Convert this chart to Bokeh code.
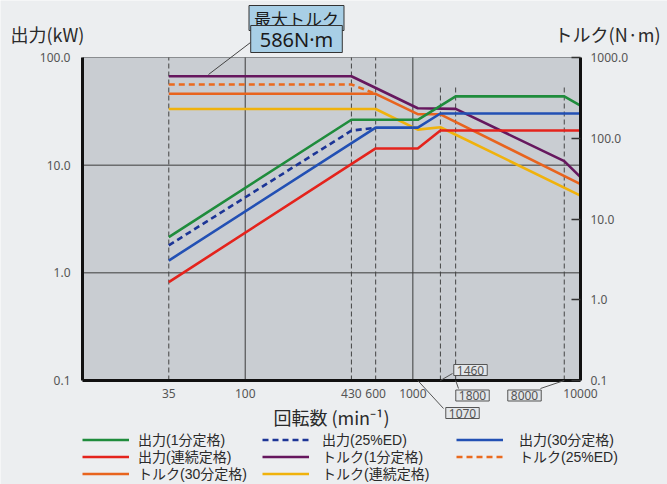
import math
from bokeh.plotting import figure
from bokeh.models import (Range1d, LogAxis, LogScale, FixedTicker, CustomJSTickFormatter,
                          Legend, LegendItem, Label, Arrow)
from bokeh.embed import file_html
from bokeh.resources import INLINE

# ---------------- data ----------------
rpm_out_1min = [35, 430, 1070, 1800, 8000, 10000]
out_1min = [2.15, 26.4, 26.4, 43.5, 43.5, 35.8]
rpm_out_25ed = [35, 430, 600]
out_25ed = [1.8, 20.9, 22.3]
rpm_out_30 = [35, 600, 1070, 1460, 10000]
out_30 = [1.30, 22.3, 22.3, 30.2, 30.2]
rpm_out_cont = [35, 600, 1070, 1460, 10000]
out_cont = [0.82, 14.3, 14.3, 21.0, 21.0]

rpm_trq_1min = [35, 430, 1070, 1800, 8000, 10000]
trq_1min = [586, 586, 235, 231, 52, 33]
rpm_trq_25ed = [35, 430, 600]
trq_25ed = [464, 464, 355]
rpm_trq_30 = [35, 600, 1070, 1460, 10000]
trq_30 = [355, 355, 199, 198, 27]
rpm_trq_cont = [35, 600, 1070, 1460, 10000]
trq_cont = [230, 230, 128, 137, 19.5]

x_ticks = [35, 100, 430, 600, 1000, 10000]
power_ticks = [0.1, 1, 10, 100]
torque_ticks = [0.1, 1, 10, 100, 1000]
power_grid = [1, 10]
solid_rpm = [100, 1000]
dashed_rpm_full = [35, 430, 600]
dashed_rpm_short = [1460, 1800, 8000]
boxed_rpm = [1070, 1460, 1800, 8000]
max_torque_text = ["最大トルク", "586N·m"]

# axis extents
RPM_MIN, RPM_MAX = 10.7, 10000
PW_MIN, PW_MAX = 0.1, 100
TQ_MIN, TQ_MAX = 0.1, 1000

# ---------------- layout (pixels) ----------------
W, H = 667, 484
CL, CR, CT, CB = 82, 580, 57, 380   # chart area inside the canvas


def log_range(vmin, vmax, lo_px, hi_px, size_before, size_after):
    d = math.log10(vmax / vmin) / (hi_px - lo_px)
    return Range1d(vmin / 10 ** (size_before * d), vmax * 10 ** (size_after * d))


FONT = "Noto Sans CJK JP"
LEGFONT = "Liberation Sans, Noto Sans CJK JP"
NUMFONT = "Noto Sans"

p = figure(width=W, height=H, x_axis_type="log", y_axis_type="log",
           x_range=log_range(RPM_MIN, RPM_MAX, CL, CR, CL, W - CR),
           y_range=log_range(PW_MIN, PW_MAX, CT, CB, H - CB, CT),
           output_backend="svg", toolbar_location=None,
           min_border_left=0, min_border_right=0, min_border_top=0, min_border_bottom=0)
p.extra_y_ranges = {"torque": log_range(TQ_MIN, TQ_MAX, CT, CB, H - CB, CT)}
p.extra_y_scales = {"torque": LogScale()}

p.background_fill_color = "#eceef0"
p.border_fill_color = "#eceef0"
p.outline_line_color = None
p.xgrid.visible = False
p.ygrid.visible = False

# chart area background
p.quad(left=[RPM_MIN], right=[RPM_MAX], bottom=[PW_MIN], top=[PW_MAX],
       fill_color="#c9cdd2", line_color=None)
p.segment(x0=[RPM_MIN], y0=[PW_MAX], x1=[RPM_MAX], y1=[PW_MAX],
          line_color="#8a8d90", line_width=1)

# axes
fmt_y = CustomJSTickFormatter(code="return tick.toFixed(1)")
fmt_x = CustomJSTickFormatter(code="return String(Math.round(tick))")

xa = p.xaxis[0]
xa.ticker = FixedTicker(ticks=x_ticks)
xa.formatter = fmt_x
xa.fixed_location = PW_MIN
xa.bounds = (RPM_MIN, RPM_MAX)
xa.axis_label = "回転数 (min⁻¹)"
xa.axis_label_text_font = FONT
xa.axis_label_text_font_style = "normal"
xa.axis_label_text_font_size = "18px"
xa.axis_label_text_color = "#2a2a2a"
xa.axis_label_standoff = 3
xa.major_label_standoff = 8

ya = p.yaxis[0]
ya.ticker = FixedTicker(ticks=power_ticks)
ya.formatter = fmt_y
ya.fixed_location = RPM_MIN
ya.bounds = (PW_MIN, PW_MAX)
ya.major_label_standoff = 12

ra = LogAxis(y_range_name="torque", ticker=FixedTicker(ticks=torque_ticks), formatter=fmt_y,
             fixed_location=RPM_MAX, bounds=(TQ_MIN, TQ_MAX))
ra.major_label_standoff = 10
p.add_layout(ra, "right")

for ax in (xa, ya, ra):
    ax.axis_line_color = "#111111"
    ax.axis_line_width = 3
    ax.major_label_text_font = NUMFONT
    ax.major_label_text_font_size = "12px"
    ax.major_label_text_color = "#555555"
    ax.minor_tick_line_color = None
    ax.major_tick_out = 0
    ax.major_tick_in = 0
ra.major_tick_in = 9
ra.major_tick_line_color = "#333333"
ra.major_tick_line_width = 1.5

# grid lines
p.segment(x0=[RPM_MIN] * len(power_grid), y0=power_grid,
          x1=[RPM_MAX] * len(power_grid), y1=power_grid,
          line_color="#3c3c3c", line_width=1)
p.segment(x0=solid_rpm, y0=[PW_MIN] * len(solid_rpm),
          x1=solid_rpm, y1=[PW_MAX] * len(solid_rpm),
          line_color="#3c3c3c", line_width=1)
p.segment(x0=dashed_rpm_full, y0=[PW_MIN] * len(dashed_rpm_full),
          x1=dashed_rpm_full, y1=[PW_MAX] * len(dashed_rpm_full),
          line_color="#444444", line_width=1, line_dash="5 3")
p.segment(x0=dashed_rpm_short, y0=[PW_MIN] * len(dashed_rpm_short),
          x1=dashed_rpm_short, y1=[55] * len(dashed_rpm_short),
          line_color="#444444", line_width=1, line_dash="5 3")

# series
LW = 2.6
c_green = "#1f8c3c"
c_navy = "#1c3596"
c_blue = "#2250b4"
c_red = "#e4231c"
c_purple = "#66175e"
c_orange_d = "#ea6a1e"
c_orange = "#e8641e"
c_yellow = "#f0b20c"

r_tc = p.line(rpm_trq_cont, trq_cont, line_color=c_yellow, line_width=LW, y_range_name="torque")
r_t30 = p.line(rpm_trq_30, trq_30, line_color=c_orange, line_width=LW, y_range_name="torque")
r_t25 = p.line(rpm_trq_25ed, trq_25ed, line_color=c_orange_d, line_width=LW, line_dash="6 4",
               y_range_name="torque")
r_t1 = p.line(rpm_trq_1min, trq_1min, line_color=c_purple, line_width=LW, y_range_name="torque")
r_oc = p.line(rpm_out_cont, out_cont, line_color=c_red, line_width=LW)
r_o25 = p.line(rpm_out_25ed, out_25ed, line_color=c_navy, line_width=LW, line_dash="6 4")
r_o30 = p.line(rpm_out_30, out_30, line_color=c_blue, line_width=LW)
r_o1 = p.line(rpm_out_1min, out_1min, line_color=c_green, line_width=LW)

# legend: one entry per grid cell (row-major, 3 columns)
legend_entries = [
    ("出力(1分定格)", r_o1), ("出力(25%ED)", r_o25), ("出力(30分定格)", r_o30),
    ("出力(連続定格)", r_oc), ("トルク(1分定格)", r_t1), ("トルク(25%ED)", r_t25),
    ("トルク(30分定格)", r_t30), ("トルク(連続定格)", r_tc),
]
col_x = [82, 262, 456]
col_standoff = [9, 13, 16]
row_y = [440.5, 457.5, 474.5]   # row centres, pixels from top
ITEM_H = 17
for i, (txt, rend) in enumerate(legend_entries):
    cx = col_x[i % 3]
    cy = row_y[i // 3]
    leg = Legend(items=[LegendItem(label=txt, renderers=[rend])],
                 location=(cx, H - cy - ITEM_H / 2),
                 label_text_font=LEGFONT, label_text_font_size="14px", label_text_color="#2a2a2a",
                 glyph_width=47, glyph_height=ITEM_H, label_height=ITEM_H,
                 label_standoff=col_standoff[i % 3], spacing=0, padding=0, margin=0,
                 background_fill_alpha=0, border_line_color=None)
    p.add_layout(leg, "center")

# titles
p.add_layout(Label(x=10, y=H - 33, x_units="screen", y_units="screen", text="出力(kW)",
                   text_font=FONT, text_font_size="18px", text_color="#2a2a2a",
                   text_baseline="middle", text_align="left"))
p.add_layout(Label(x=660, y=H - 33, x_units="screen", y_units="screen", text="トルク(N·m)",
                   text_font=FONT, text_font_size="18px", text_color="#2a2a2a",
                   text_baseline="middle", text_align="right"))

# max torque callout
p.add_layout(Arrow(end=None, x_start=208, y_start=H - 74, x_end=250, y_end=H - 42,
                   start_units="screen", end_units="screen", line_color="#444444", line_width=1))
p.add_layout(Label(x=296, y=H - 17.5, x_units="screen", y_units="screen", text=max_torque_text[0],
                   text_font=FONT, text_font_size="17px", text_color="#1a1a1a",
                   text_baseline="middle", text_align="center",
                   background_fill_color="#a8cfe6", border_line_color="#333333",
                   border_line_width=1, padding=(5, 0)))
p.add_layout(Label(x=296, y=H - 38.5, x_units="screen", y_units="screen", text=max_torque_text[1],
                   text_font=NUMFONT, text_font_size="20px", text_color="#1a1a1a",
                   text_baseline="middle", text_align="center",
                   background_fill_color="#a8cfe6", border_line_color="#333333",
                   border_line_width=1, padding=(9, 0)))

# boxed rpm markers: (label centre x, y, leader end x, y) in canvas pixels from top-left
box_pos = {1070: (462, 412.5, 443, 408), 1460: (470, 369.5, 452, 373),
           1800: (472, 395, 458, 388), 8000: (524, 395, 540, 388)}
for r in boxed_rpm:
    cx, cy, ex, ey = box_pos[r]
    p.add_layout(Arrow(end=None, x_start=r, y_start=PW_MIN, start_units="data",
                       x_end=ex, y_end=H - ey, end_units="screen",
                       line_color="#555555", line_width=1))
    p.add_layout(Label(x=cx, y=H - cy, x_units="screen", y_units="screen", text=str(r),
                       text_font=NUMFONT, text_font_size="12px", text_color="#555555",
                       text_baseline="middle", text_align="center",
                       background_fill_color="#e4e7ea", border_line_color="#555555",
                       border_line_width=1, padding=(3, 1)))

open("out.html", "w").write(file_html(p, INLINE))
